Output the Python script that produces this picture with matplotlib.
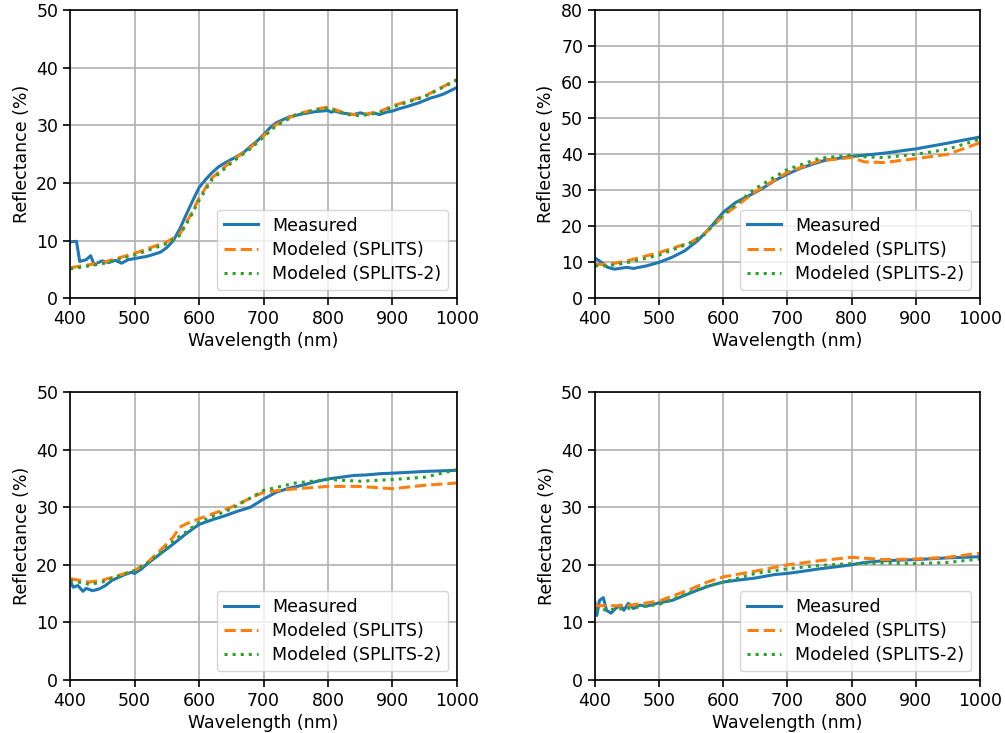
import numpy as np
import matplotlib
matplotlib.use("Agg")
import matplotlib.pyplot as plt

# ---- panel 1 (oben links) ----
wl_m1 = [400, 410, 415, 425, 432, 437, 450, 460, 470, 480, 490, 500, 520, 540, 550, 560, 570, 580,
         590, 600, 610, 620, 630, 640, 650, 660, 670, 680, 690, 700, 710, 720, 740, 760, 780, 800,
         805, 810, 820, 840, 850, 860, 870, 880, 890, 900, 910, 920, 940, 960, 970, 980, 1000]
meas_1 = [9.8, 9.9, 6.4, 6.7, 7.4, 5.9, 6.5, 6.2, 6.6, 6.1, 6.7, 6.9, 7.3, 8.0, 8.8, 10.0, 12.0, 14.5,
          16.9, 19.2, 20.6, 21.8, 22.8, 23.5, 24.1, 24.7, 25.4, 26.4, 27.3, 28.4, 29.6, 30.5, 31.5, 32.0,
          32.4, 32.6, 32.3, 32.5, 32.2, 31.9, 32.2, 31.9, 32.2, 31.9, 32.3, 32.5, 32.9, 33.2, 33.9, 34.8,
          35.1, 35.5, 36.6]
wl_s1 = [400, 450, 500, 550, 570, 590, 600, 620, 650, 680, 700, 720, 750, 780, 800, 810, 830, 850,
         880, 900, 950, 1000]
splits_1 = [5.3, 6.2, 7.8, 9.8, 11.1, 15.1, 17.4, 20.9, 23.8, 26.2, 28.2, 30.2, 31.9, 32.8, 33.2, 32.8,
            32.0, 31.8, 32.4, 33.4, 35.1, 38.0]
splits2_1 = [5.1, 6.0, 7.5, 9.5, 10.9, 14.8, 17.0, 20.6, 23.5, 26.0, 28.0, 30.0, 31.8, 32.7, 33.0, 32.6,
             31.9, 31.7, 32.2, 33.2, 35.0, 37.9]

# ---- panel 2 (oben rechts) ----
wl_m2 = [400, 410, 420, 430, 450, 460, 480, 500, 520, 540, 560, 580, 600, 620, 640, 660, 680, 700,
         720, 740, 760, 780, 800, 850, 900, 950, 1000]
meas_2 = [11.2, 10.0, 8.6, 8.1, 8.6, 8.3, 9.0, 10.0, 11.4, 13.2, 16.0, 19.7, 23.9, 26.7, 28.5, 30.4,
          32.7, 34.5, 36.1, 37.3, 38.4, 38.9, 39.4, 40.3, 41.5, 43.1, 44.8]
wl_s2 = [400, 420, 450, 500, 550, 570, 600, 650, 700, 750, 800, 820, 850, 900, 950, 1000]
splits_2 = [9.4, 9.4, 10.4, 12.7, 15.6, 17.8, 22.9, 29.6, 35.0, 38.2, 39.1, 37.9, 37.7, 38.8, 40.0, 43.2]
splits2_2 = [9.0, 9.0, 9.9, 12.0, 15.5, 17.6, 23.3, 30.5, 35.8, 38.9, 39.8, 39.3, 39.1, 40.0, 41.4, 44.2]

# ---- panel 3 (unten links) ----
wl_m3 = [400, 405, 412, 420, 425, 435, 445, 455, 465, 475, 485, 495, 500, 510, 520, 540, 560, 580,
         600, 620, 640, 660, 680, 700, 720, 740, 760, 780, 800, 820, 840, 860, 880, 900, 950, 1000]
meas_3 = [17.2, 16.1, 16.4, 15.4, 15.9, 15.5, 15.8, 16.4, 17.3, 17.8, 18.3, 18.7, 18.5, 19.2, 20.2,
          21.9, 23.6, 25.4, 27.0, 27.8, 28.5, 29.3, 30.0, 31.4, 32.6, 33.3, 33.8, 34.4, 34.9, 35.2,
          35.5, 35.6, 35.8, 35.9, 36.2, 36.4]
wl_s3 = [400, 430, 450, 500, 520, 540, 560, 570, 580, 600, 650, 700, 750, 800, 850, 900, 950, 1000]
splits_3 = [17.6, 17.0, 17.3, 19.0, 20.4, 22.5, 24.8, 26.5, 27.1, 28.0, 30.0, 32.6, 33.2, 33.6, 33.6,
            33.2, 33.8, 34.2]
splits2_3 = [17.3, 16.6, 17.0, 19.0, 20.3, 22.0, 24.1, 25.0, 25.7, 27.4, 29.7, 32.9, 34.2, 34.8, 34.5,
             34.8, 35.2, 36.5]

# ---- panel 4 (unten rechts) ----
wl_m4 = [400, 403, 407, 413, 418, 425, 432, 440, 445, 452, 460, 470, 480, 490, 500, 520, 540, 560,
         580, 600, 620, 650, 680, 700, 720, 750, 780, 800, 820, 850, 900, 950, 1000]
meas_4 = [13.5, 11.2, 13.8, 14.3, 12.1, 11.6, 12.4, 13.0, 12.1, 13.3, 12.4, 13.0, 12.8, 13.1, 13.4,
          13.8, 14.7, 15.6, 16.4, 17.0, 17.3, 17.7, 18.3, 18.5, 18.8, 19.3, 19.7, 20.0, 20.4, 20.7,
          20.9, 21.2, 21.4]
wl_s4 = [400, 450, 500, 550, 575, 600, 650, 700, 750, 800, 850, 900, 950, 1000]
splits_4 = [12.9, 12.9, 13.7, 15.8, 17.0, 17.9, 18.9, 20.0, 20.7, 21.3, 20.9, 21.0, 21.3, 22.0]
splits2_4 = [12.1, 12.4, 13.1, 15.3, 16.3, 17.0, 18.5, 19.3, 19.9, 20.2, 20.3, 20.2, 20.4, 21.0]

panels = [
    (wl_m1, meas_1, wl_s1, splits_1, splits2_1, 50),
    (wl_m2, meas_2, wl_s2, splits_2, splits2_2, 80),
    (wl_m3, meas_3, wl_s3, splits_3, splits2_3, 50),
    (wl_m4, meas_4, wl_s4, splits_4, splits2_4, 50),
]

plt.rcParams['font.size'] = 12.5
plt.rcParams['axes.linewidth'] = 1.2
plt.rcParams['xtick.major.size'] = 5
plt.rcParams['ytick.major.size'] = 5
plt.rcParams['xtick.major.width'] = 1.2
plt.rcParams['ytick.major.width'] = 1.2

fig = plt.figure(figsize=(10.05, 7.33), dpi=100)
positions = [
    [0.0697, 0.593, 0.385, 0.393],
    [0.592, 0.593, 0.383, 0.393],
    [0.0697, 0.0723, 0.385, 0.393],
    [0.592, 0.0723, 0.383, 0.393],
]

for pos, (wm, m, ws, s, t, ytop) in zip(positions, panels):
    ax = fig.add_axes(pos)
    ax.plot(wm, m, color='#1f77b4', lw=2.2, label='Measured')
    ax.plot(ws, s, color='#ff7f0e', lw=2.2, ls=(0, (3.7, 1.6)), label='Modeled (SPLITS)')
    ax.plot(ws, t, color='#2ca02c', lw=2.2, ls=(0, (1, 1.65)), label='Modeled (SPLITS-2)')
    ax.set_xlim(400, 1000)
    ax.set_ylim(0, ytop)
    ax.set_xticks(np.arange(400, 1001, 100))
    ax.set_yticks(np.arange(0, ytop + 1, 10))
    ax.grid(True, color='#b0b0b0', lw=1.2)
    ax.set_axisbelow(True)
    ax.set_xlabel('Wavelength (nm)', labelpad=3)
    ax.set_ylabel('Reflectance (%)', labelpad=4)
    ax.legend(loc='lower right', fontsize=12.5, borderpad=0.4, labelspacing=0.35)

fig.savefig('out.png', dpi=100)
